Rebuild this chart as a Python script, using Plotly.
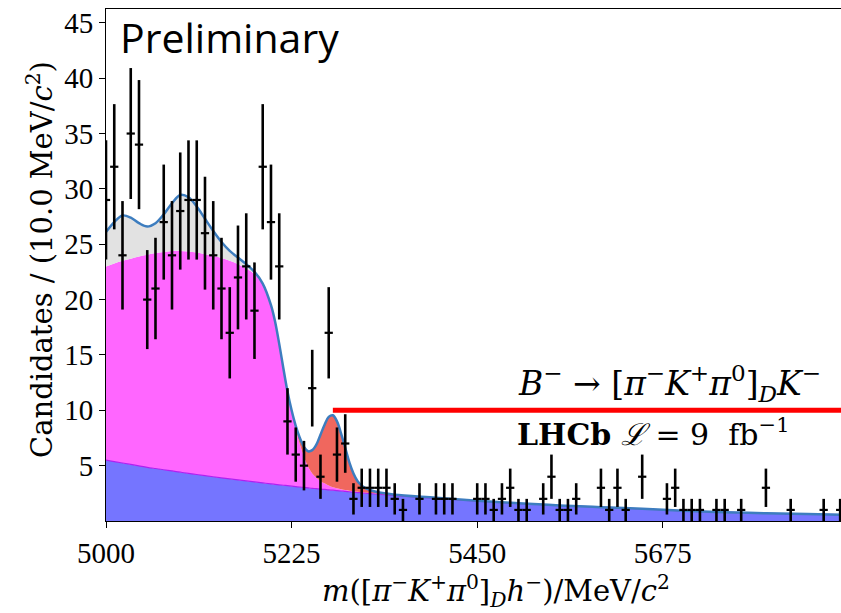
import numpy as np
import plotly.graph_objects as go

# ---------------- data points (10 MeV bins) ----------------
bin_centers = list(range(5000, 5900, 10))
counts = [29, 32, 24, 35, 34, 20, 21, 27, 24, 28,
          29, 29, 26, 24, 21, 17, 22, 23, 19, 32,
          27, 23, 9, 6, 5, 12, 4, 17, 6, 7,
          2, 3, 3, 3, 3, 2, 1, 0, 2, 0,
          2, 2, 2, 0, 0, 2, 2, 1, 2, 3,
          1, 1, 0, 2, 4, 1, 1, 2, 0, 0,
          3, 1, 3, 1, 0, 4, 0, 0, 2, 3,
          1, 1, 1, 0, 1, 1, 0, 1, 0, 0,
          3, 0, 0, 1, 0, 0, 0, 1, 0, 1]

# ---------------- fit components (cumulative tops) ----------------
curve_mass = ([5000, 5010, 5020, 5030, 5040, 5050, 5060, 5070, 5080, 5090,
               5100, 5110, 5120, 5130, 5140, 5150, 5160, 5170, 5180, 5190, 5200,
               5205, 5210, 5215, 5220, 5225, 5230, 5235, 5240, 5245, 5250,
               5255, 5260, 5265, 5270, 5275, 5280, 5285, 5290, 5295, 5300,
               5305, 5310, 5315, 5320, 5330, 5340, 5350,
               5400, 5450, 5500, 5550, 5600, 5650, 5700, 5750, 5800, 5850, 5900])

comb_top = [5.50, 5.37, 5.24, 5.11, 4.98, 4.85, 4.74, 4.63, 4.52, 4.41,
            4.30, 4.20, 4.10, 4.00, 3.90, 3.80, 3.71, 3.62, 3.53, 3.44, 3.35,
            3.31, 3.27, 3.23, 3.19, 3.15, 3.11, 3.07, 3.03, 2.99, 2.95,
            2.92, 2.88, 2.85, 2.81, 2.78, 2.74, 2.71, 2.67, 2.64, 2.60,
            2.57, 2.54, 2.51, 2.48, 2.42, 2.36, 2.30,
            2.05, 1.80, 1.60, 1.40, 1.25, 1.10, 0.92, 0.80, 0.70, 0.63, 0.56]

partreco_top = [23.0, 23.25, 23.5, 23.7, 23.9, 24.05, 24.2, 24.3, 24.4, 24.4,
                24.35, 24.25, 24.1, 23.95, 23.75, 23.5, 23.2, 22.8, 22.3, 21.4, 19.5,
                18.0, 16.0, 13.8, 11.6, 9.8, 8.3, 6.9, 5.8, 4.9, 4.3,
                3.9, 3.6, 3.4, 3.2, 3.05, 2.95, 2.87, 2.80, 2.74, 2.69,
                2.65, 2.61, 2.57, 2.54, 2.47, 2.40, 2.33,
                2.06, 1.80, 1.60, 1.40, 1.25, 1.10, 0.92, 0.80, 0.70, 0.63, 0.56]

signal_top = [23.0, 23.25, 23.5, 23.7, 23.9, 24.05, 24.2, 24.3, 24.4, 24.4,
              24.35, 24.25, 24.1, 23.95, 23.75, 23.5, 23.2, 22.8, 22.3, 21.4, 19.5,
              18.0, 16.0, 13.8, 11.7, 10.0, 8.6, 7.5, 6.7, 6.3, 6.4,
              6.9, 7.8, 8.7, 9.4, 9.55, 9.0, 7.9, 6.6, 5.3, 4.3,
              3.6, 3.2, 2.95, 2.8, 2.6, 2.48, 2.38,
              2.10, 1.82, 1.61, 1.41, 1.25, 1.10, 0.92, 0.80, 0.70, 0.63, 0.56]

total_fit = [26.1, 27.0, 27.6, 27.4, 26.9, 26.6, 26.9, 27.7, 28.7, 29.45,
             29.25, 28.4, 27.3, 26.2, 25.2, 24.4, 23.8, 23.2, 22.5, 21.45, 19.5,
             18.0, 16.0, 13.8, 11.7, 10.0, 8.6, 7.5, 6.7, 6.3, 6.4,
             6.9, 7.8, 8.7, 9.4, 9.55, 9.0, 7.9, 6.6, 5.3, 4.3,
             3.6, 3.2, 2.95, 2.8, 2.6, 2.48, 2.38,
             2.10, 1.82, 1.61, 1.41, 1.25, 1.10, 0.92, 0.80, 0.70, 0.63, 0.56]

x_ticks = [5000, 5225, 5450, 5675]
y_ticks = [5, 10, 15, 20, 25, 30, 35, 40, 45]

red_line_start = 5275
red_line_level = 10

# ---------------- figure ----------------
SERIF = "Liberation Serif, Times New Roman, serif"
WSERIF = "DejaVu Serif, serif"
L, R, T, B = 106, 0, 9, 92
W, H = 841, 613
PW, PH = W - L - R, H - T - B


def px_x(px):
    return (px - L) / PW


def px_y(py):
    return (H - B - py) / PH


fig = go.Figure()

fig.add_trace(go.Scatter(x=curve_mass, y=comb_top, mode="lines", fill="tozeroy",
                         fillcolor="#7575FF", line=dict(color="#B020F0", width=1.2, shape="spline"),
                         hoverinfo="skip", showlegend=False))
fig.add_trace(go.Scatter(x=curve_mass, y=partreco_top, mode="lines", fill="tonexty",
                         fillcolor="#FF66FF", line=dict(color="rgba(0,0,0,0)", width=0, shape="spline"),
                         hoverinfo="skip", showlegend=False))
fig.add_trace(go.Scatter(x=curve_mass, y=signal_top, mode="lines", fill="tonexty",
                         fillcolor="#F0675E", line=dict(color="rgba(0,0,0,0)", width=0, shape="spline"),
                         hoverinfo="skip", showlegend=False))
fig.add_trace(go.Scatter(x=curve_mass, y=total_fit, mode="lines", fill="tonexty",
                         fillcolor="#E2E2E2", line=dict(color="rgba(0,0,0,0)", width=0, shape="spline"),
                         hoverinfo="skip", showlegend=False))
fig.add_trace(go.Scatter(x=curve_mass, y=total_fit, mode="lines",
                         line=dict(color="#3D7DBF", width=2.5, shape="spline"),
                         hoverinfo="skip", showlegend=False))

# data points (empty bins not drawn)
xs = [m for m, c in zip(bin_centers, counts) if c > 0]
ys = [c for c in counts if c > 0]
fig.add_trace(go.Scatter(x=xs, y=ys, mode="markers",
                         marker=dict(size=1, color="black"),
                         error_y=dict(type="data", array=list(np.sqrt(ys)), color="black",
                                      thickness=2.6, width=0),
                         error_x=dict(type="data", array=[5] * len(xs), color="black",
                                      thickness=2.2, width=0),
                         showlegend=False))

fig.add_shape(type="line", xref="x", yref="y", x0=red_line_start, x1=5900,
              y0=red_line_level, y1=red_line_level, line=dict(color="#FF0000", width=5))

annots = [
    dict(text="Preliminary", x=px_x(118), y=px_y(37), xanchor="left", yanchor="middle",
         font=dict(family="Open Sans, Noto Sans, sans-serif", size=41, color="black")),
    dict(text="<i>B</i><sup>−</sup> → [<i>π</i><sup>−</sup><i>K</i><sup>+</sup><i>π</i><sup>0</sup>]"
              "<sub><i>D</i></sub><i>K</i><sup>−</sup>",
         x=px_x(516), y=px_y(383), xanchor="left", yanchor="middle",
         font=dict(family=WSERIF, size=33, color="black")),
    dict(text="<b>LHCb</b> <i>ℒ</i> = 9  fb<sup>−1</sup>",
         x=px_x(515), y=px_y(432), xanchor="left", yanchor="middle",
         font=dict(family=WSERIF, size=30, color="black")),
    dict(text="<i>m</i>([<i>π</i><sup>−</sup><i>K</i><sup>+</sup><i>π</i><sup>0</sup>]<sub><i>D</i></sub>"
              "<i>h</i><sup>−</sup>)/MeV/<i>c</i><sup>2</sup>",
         x=px_x(496), y=px_y(591), xanchor="center", yanchor="middle",
         font=dict(family=WSERIF, size=29, color="black")),
    dict(text="Candidates / (10.0 MeV/<i>c</i><sup>2</sup>)", textangle=-90,
         x=px_x(40), y=px_y(260), xanchor="center", yanchor="middle",
         font=dict(family=WSERIF, size=29, color="black")),
]
for a in annots:
    a.update(xref="paper", yref="paper", showarrow=False)
    fig.add_annotation(**a)

fig.update_layout(
    width=W, height=H, margin=dict(l=L, r=R, t=T, b=B),
    plot_bgcolor="white", paper_bgcolor="white",
    xaxis=dict(range=[5000, 5891], tickvals=x_ticks, ticktext=[str(v) for v in x_ticks],
               showgrid=False, zeroline=False, showline=True, linecolor="black", linewidth=1,
               mirror=True, ticks="outside", ticklen=6, tickcolor="black",
               tickfont=dict(family=SERIF, size=29, color="black")),
    yaxis=dict(range=[0, 46.25], tickvals=y_ticks, ticktext=[str(v) for v in y_ticks],
               showgrid=False, zeroline=False, showline=True, linecolor="black", linewidth=1,
               ticks="outside", ticklen=6, tickcolor="black",
               tickfont=dict(family=SERIF, size=29, color="black")),
)

fig.write_html("out.html")
